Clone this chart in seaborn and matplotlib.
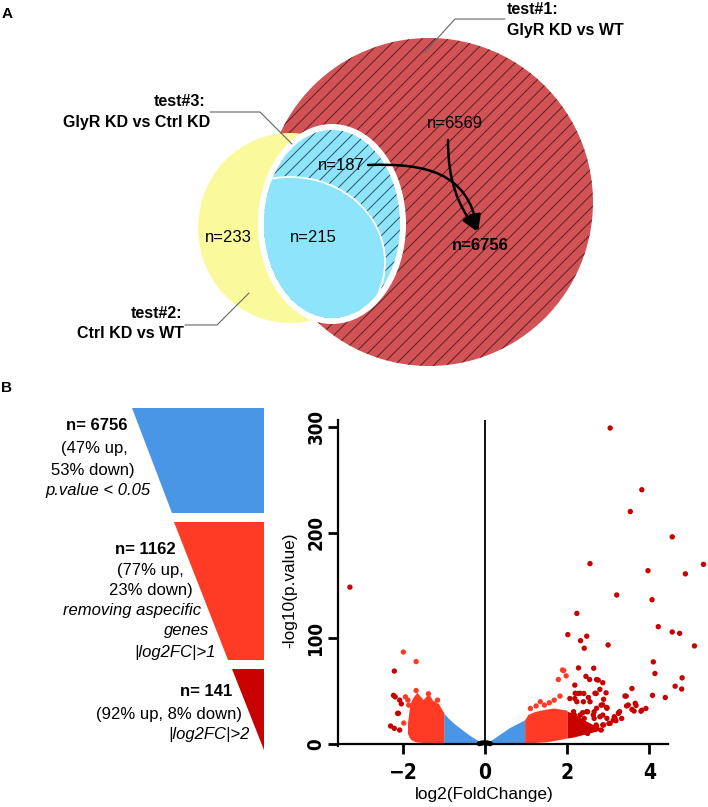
import numpy as np
import pandas as pd
import matplotlib
matplotlib.use("Agg")
import matplotlib.pyplot as plt
import seaborn as sns
from matplotlib import font_manager
from matplotlib.patches import Ellipse, Polygon, FancyArrowPatch
from matplotlib.path import Path
from matplotlib.collections import LineCollection

# ---------------- data ----------------
# Venn (panel A)
venn_region_names = ["test1_only", "test1_and_test3", "test2_only", "test2_and_test3"]
venn_region_counts = [6569, 187, 233, 215]
test1_total = 6756
test_titles = ["test#1:", "test#2:", "test#3:"]
test_descs = ["GlyR KD vs WT", "Ctrl KD vs WT", "GlyR KD vs Ctrl KD"]

# Funnel (panel B)
funnel_n = [6756, 1162, 141]
funnel_up = [47, 77, 92]
funnel_down = [53, 23, 8]
funnel_criteria_1 = ["p.value < 0.05"]
funnel_criteria_2 = ["removing aspecific", "genes", "|log2FC|>1"]
funnel_criteria_3 = ["|log2FC|>2"]

# Volcano: individually visible points (log2FC, -log10 p)
pts_lfc = [3.05, 3.82, 3.54, 4.56, 2.56, 5.32, 3.97, 4.88, 3.21, 4.07, 2.24, 4.22,
           2.02, 2.48, 4.56, 4.74, 2.33, 3.0, 5.1, 2.42, 4.1, 2.28, 2.65, 4.14,
           2.46, 2.55, 2.76, 4.8, 2.87, 4.63, 4.79, 3.58, 2.19, 2.95, 4.08, 4.39,
           3.44, 2.71, 2.41, 2.26, 2.19, 2.97, 2.83, 2.56, 3.68, 3.58, 3.82, 3.92,
           3.45, 3.26, 3.15, 3.33, 2.66, 2.42, 2.38, 2.5, 2.66, 2.87, 2.3, 2.47,
           2.71, 2.87, 3.02, 3.19, 2.18, 2.18, 2.59, 2.83, 2.34, 2.14, 2.5,
           2.72, 2.8, 2.2, 2.32, 2.68, 2.07, 2.24, 2.4, 2.52, 2.89, 2.87, 2.97,
           3.28, 3.17, 3.41, 3.49, 3.66, 3.63, 3.8, 2.48, 2.64, 2.8, 2.97, 3.13,
           3.25, 2.32, 2.16, 2.89, 3.05, 2.72, 2.55, 2.4, 2.2, 2.72,
           1.92, 1.98, 1.79, 1.83, 1.69, 1.35, 1.11, 1.57, 1.45, 1.89, 1.25,
           -1.98, -1.67, -1.67, -1.37, -1.93, -1.85, -1.87, -1.72, -1.76, -1.15, -1.24, -1.97,
           -2.2, -2.18, -2.07, -2.22, -2.1, -2.29, -2.2, -2.07, -2.12, -2.03, -3.28]
pts_nlp = [299, 240.6, 220, 196, 170.7, 170, 164, 161, 141, 136.5, 123.6, 111,
           103.5, 102, 106, 104.7, 97.8, 93.7, 92.8, 90.6, 77.7, 72, 71.7, 66.7,
           64, 61, 60.4, 62.6, 58, 54.7, 52, 52.5, 55.7, 48.4, 46, 44,
           45.3, 47.8, 47.8, 47.8, 43, 34.6, 36.8, 40, 36.5, 32.7, 32, 33.6,
           36, 29.6, 25.8, 24.2, 24.2, 24.2, 29.6, 30.5, 30.5, 27.4, 19.5, 16.4,
           18, 18, 19.5, 22, 27.4, 21, 13.8, 13.2, 11.6, 10, 10,
           61, 51.7, 48, 48, 48, 43, 40, 40, 44, 42.3, 37, 33.8,
           30.6, 24.3, 45.4, 36.9, 38.5, 31.2, 31, 30.6, 27.4, 25.8, 24.3, 22.7,
           29, 27.4, 30.6, 18, 19.6, 16.4, 14.8, 13.2, 11.6, 33.8,
           69.5, 64.5, 61, 45.3, 41.5, 40, 33.6, 39, 36.8, 70, 36,
           87, 78, 50.6, 47.5, 44.6, 36.8, 41.5, 25.8, 19.5, 41.5, 38, 19.8,
           69, 44.6, 41.5, 46, 29, 17, 14.8, 13.2, 29, 38, 148.4]
# points sitting on the origin (black)
base_lfc = [-0.13, -0.07, 0.0, 0.07, 0.13]
base_nlp = [0.4, 0.9, 1.3, 0.9, 0.4]

# Dense clouds: envelopes
env_blue_lfc = [-1.0, -0.9, -0.75, -0.6, -0.45, -0.3, -0.15, 0.0, 0.15, 0.3, 0.45, 0.6, 0.75, 0.9, 0.97]
env_blue_top = [29.5, 25, 19.5, 15, 10.5, 6.5, 3.0, 1.0, 3.5, 7.5, 11.5, 15.5, 18.5, 21.5, 23]
env_blue_bot = [0.8, 0.7, 0.6, 0.5, 0.4, 0.3, 0.2, 0.0, 0.2, 0.3, 0.4, 0.5, 0.6, 0.7, 0.8]
env_redL_lfc = [-1.88, -1.82, -1.75, -1.65, -1.5, -1.37, -1.25, -1.13, -1.05, -1.0]
env_redL_top = [20, 38, 44, 49, 42, 48, 40, 38.5, 33, 30]
env_redL_bot = [10, 5, 3, 1.8, 1.5, 1.2, 1.0, 1.0, 0.9, 0.8]
env_redR_lfc = [0.97, 1.05, 1.2, 1.35, 1.5, 1.67, 1.85, 2.0]
env_redR_top = [23, 28, 30.5, 32, 33, 34, 33, 32]
env_redR_bot = [0.8, 1.0, 1.4, 1.8, 2.2, 3.2, 4.5, 5.7]
env_dark_lfc = [2.0, 2.15, 2.3, 2.45, 2.6, 2.75, 2.9]
env_dark_top = [31, 29, 26, 22, 19, 16, 14]
env_dark_bot = [5.7, 6.5, 8, 9.5, 11, 12.5, 13.5]

# ---------------- style ----------------
sns.set_theme(style="white")
plt.rcParams['font.family'] = ['Liberation Sans', 'DejaVu Sans']
for key in ['text.color', 'axes.labelcolor', 'xtick.color', 'ytick.color']:
    plt.rcParams[key] = 'black'

_avail = {(f.name, f.stretch) for f in font_manager.fontManager.ttflist}
_names = {f.name for f in font_manager.fontManager.ttflist}
if 'Liberation Sans Narrow' in _names:
    TICK_FONT = dict(family=['Liberation Sans Narrow', 'DejaVu Sans'])
elif ('DejaVu Sans', 'condensed') in _avail or ('DejaVu Sans', 'semi-condensed') in _avail:
    TICK_FONT = dict(family=['DejaVu Sans'], stretch='condensed')
else:
    TICK_FONT = dict(family=['Liberation Sans', 'DejaVu Sans'])

RED_V = '#D15356'
YEL_V = '#FAFA9C'
CYAN_V = '#8DE4FB'
BLUE = '#4A96E6'
ORANGE = '#FF3B25'
DARK = '#C80000'

fig = plt.figure(figsize=(7.08, 8.07), dpi=100)
ax0 = fig.add_axes([0, 0, 1, 1])
ax0.set_xlim(0, 708)
ax0.set_ylim(807, 0)
ax0.axis('off')
ax0.set_autoscale_on(False)


def add_hatch(ax, patch, spacing, color, lw, zorder):
    segs = [[(-100, c + 100), (800, c - 800)] for c in np.arange(-800, 1700, spacing)]
    lc = LineCollection(segs, colors=color, linewidths=lw, zorder=zorder)
    ax.add_collection(lc, autolim=False)
    lc.set_clip_path(patch)


# ---------------- panel A: Venn ----------------
red_c = Ellipse((429, 202), 328, 328, fc=RED_V, lw=0, zorder=1)
ax0.add_patch(red_c)
add_hatch(ax0, red_c, 13, '#5A1C1E', 0.7, 1.5)
yel = Ellipse((290, 228), 184, 190, fc=YEL_V, lw=0, zorder=2)
ax0.add_patch(yel)
ring = Ellipse((332, 224), 148, 200, fc='white', lw=0, zorder=3)
ax0.add_patch(ring)
blue_c = Ellipse((332, 224), 136, 188, fc=CYAN_V, lw=0, zorder=4)
ax0.add_patch(blue_c)
add_hatch(ax0, blue_c, 13, '#2C5262', 0.7, 4.5)
inter = Ellipse((290, 262), 190, 170, fc=CYAN_V, ec='white', lw=1.3, zorder=5)
ax0.add_patch(inter)
inter.set_clip_path(blue_c)

# leader lines
lead_kw = dict(color='#666666', lw=0.8, zorder=6)
ax0.plot([505, 455, 425], [19, 19, 52], **lead_kw)
ax0.plot([210, 260, 292], [112, 112, 144], **lead_kw)
ax0.plot([185, 217, 249], [325, 325, 293], **lead_kw)

tkw = dict(fontsize=11.5, fontweight='bold', va='center', zorder=7)
ax0.text(507, 10, test_titles[0], ha='left', **tkw)
ax0.text(507, 30, test_descs[0], ha='left', **tkw)
ax0.text(205, 102, test_titles[2], ha='right', **tkw)
ax0.text(210, 122, test_descs[2], ha='right', **tkw)
ax0.text(182, 313, test_titles[1], ha='right', **tkw)
ax0.text(184, 333, test_descs[1], ha='right', **tkw)

nkw = dict(fontsize=12, va='center', ha='center', zorder=7)
ax0.text(455, 123, f"n={venn_region_counts[0]}", **nkw)
ax0.text(341, 165, f"n={venn_region_counts[1]}", **nkw)
ax0.text(228, 237, f"n={venn_region_counts[2]}", **nkw)
ax0.text(313, 237, f"n={venn_region_counts[3]}", **nkw)
ax0.text(480, 245, f"n={test1_total}", fontweight='bold', **nkw)

akw = dict(arrowstyle='-|>,head_length=0.9,head_width=0.3', mutation_scale=11,
           lw=1.8, color='black', shrinkA=0, shrinkB=0, zorder=8)
p1 = Path([(368, 165), (425, 163), (468, 172), (478, 232)],
          [Path.MOVETO, Path.CURVE4, Path.CURVE4, Path.CURVE4])
p2 = Path([(448, 140), (448, 182), (458, 205), (478, 232)],
          [Path.MOVETO, Path.CURVE4, Path.CURVE4, Path.CURVE4])
ax0.add_patch(FancyArrowPatch(path=p1, **akw))
ax0.add_patch(FancyArrowPatch(path=p2, **akw))

ax0.text(7, 14, "A", fontsize=11, fontweight='bold', ha='center', va='center')
ax0.text(7, 388, "B", fontsize=11, fontweight='bold', ha='center', va='center')

# ---------------- panel B: funnel ----------------
ax0.add_patch(Polygon([(132, 408), (264, 408), (264, 513), (172, 513)], closed=True, fc=BLUE, lw=0))
ax0.add_patch(Polygon([(174, 522), (264, 522), (264, 660), (228, 660)], closed=True, fc=ORANGE, lw=0))
ax0.add_patch(Polygon([(232, 669), (264, 669), (264, 750)], closed=True, fc=DARK, lw=0))

fkw = dict(fontsize=12, ha='right', va='center')
ax0.text(127, 426, f"n= {funnel_n[0]}", fontweight='bold', **fkw)
ax0.text(128, 449, f"({funnel_up[0]}% up,", **fkw)
ax0.text(135, 470, f"{funnel_down[0]}% down)", **fkw)
ax0.text(151, 490, funnel_criteria_1[0], style='italic', **fkw)

ax0.text(176, 549, f"n= {funnel_n[1]}", fontweight='bold', **fkw)
ax0.text(184, 570, f"({funnel_up[1]}% up,", **fkw)
ax0.text(193, 590, f"{funnel_down[1]}% down)", **fkw)
ax0.text(201, 610, funnel_criteria_2[0], style='italic', **fkw)
ax0.text(209, 631, funnel_criteria_2[1], style='italic', **fkw)
ax0.text(216, 652, funnel_criteria_2[2], style='italic', **fkw)

ax0.text(232, 692, f"n= {funnel_n[2]}", fontweight='bold', **fkw)
ax0.text(242, 714, f"({funnel_up[2]}% up, {funnel_down[2]}% down)", **fkw)
ax0.text(250, 735, funnel_criteria_3[0], style='italic', **fkw)

# ---------------- panel B: volcano ----------------
ax1 = fig.add_axes([0.4774, 0.07546, 0.5226, 0.40409])
ax1.set_facecolor('none')

ax1.fill_between(env_blue_lfc, env_blue_bot, env_blue_top, color=BLUE, lw=0, zorder=2)
ax1.fill_between(env_redL_lfc, env_redL_bot, env_redL_top, color=ORANGE, lw=0, zorder=2)
ax1.fill_between(env_redR_lfc, env_redR_bot, env_redR_top, color=ORANGE, lw=0, zorder=2)
ax1.fill_between(env_dark_lfc, env_dark_bot, env_dark_top, color=DARK, lw=0, zorder=2)

df = pd.DataFrame({"lfc": pts_lfc, "nlp": pts_nlp})
df["cls"] = np.where(df["lfc"].abs() > 2, "strong",
                     np.where(df["lfc"].abs() > 1, "moderate", "ns"))
df_base = pd.DataFrame({"lfc": base_lfc, "nlp": base_nlp, "cls": "base"})
df_all = pd.concat([df, df_base], ignore_index=True)
pal = {"ns": BLUE, "moderate": ORANGE, "strong": DARK, "base": "black"}
sns.scatterplot(data=df_all, x="lfc", y="nlp", hue="cls", palette=pal, s=15,
                linewidth=0, legend=False, ax=ax1, zorder=3, clip_on=False)

ax1.axvline(0, color='black', lw=1.3, zorder=1)
ax1.set_xlim(-3.57, 5.43)
ax1.set_ylim(-2, 306.6)
ax1.spines['top'].set_visible(False)
ax1.spines['right'].set_visible(False)
ax1.spines['bottom'].set_position(('data', 0))
ax1.spines['bottom'].set_bounds(-3.57, 4.46)
for sp in ['left', 'bottom']:
    ax1.spines[sp].set_color('black')
    ax1.spines[sp].set_linewidth(1.6)
ax1.spines['bottom'].set_zorder(4)
ax1.set_xticks([-2, 0, 2, 4])
ax1.set_yticks([0, 100, 200, 300])
ax1.tick_params(axis='both', bottom=True, left=True, direction='out', length=7,
                width=2, color='black')
ax1.tick_params(axis='x', pad=7)
ax1.tick_params(axis='y', pad=2)
for lab in ax1.get_xticklabels():
    lab.set(**TICK_FONT)
    lab.set_fontweight('bold')
    lab.set_fontsize(15)
for lab in ax1.get_yticklabels():
    lab.set(**TICK_FONT)
    lab.set_fontweight('bold')
    lab.set_fontsize(13.5)
    lab.set_rotation(90)
    lab.set_va('center')
ax1.set_xlabel("log2(FoldChange)", fontsize=12.4)
ax1.set_ylabel("-log10(p.value)", fontsize=12.4)
ax1.xaxis.set_label_coords(0.395, -0.125)
ax1.yaxis.set_label_coords(-0.11, 0.478)

fig.savefig("out.png", dpi=100)
